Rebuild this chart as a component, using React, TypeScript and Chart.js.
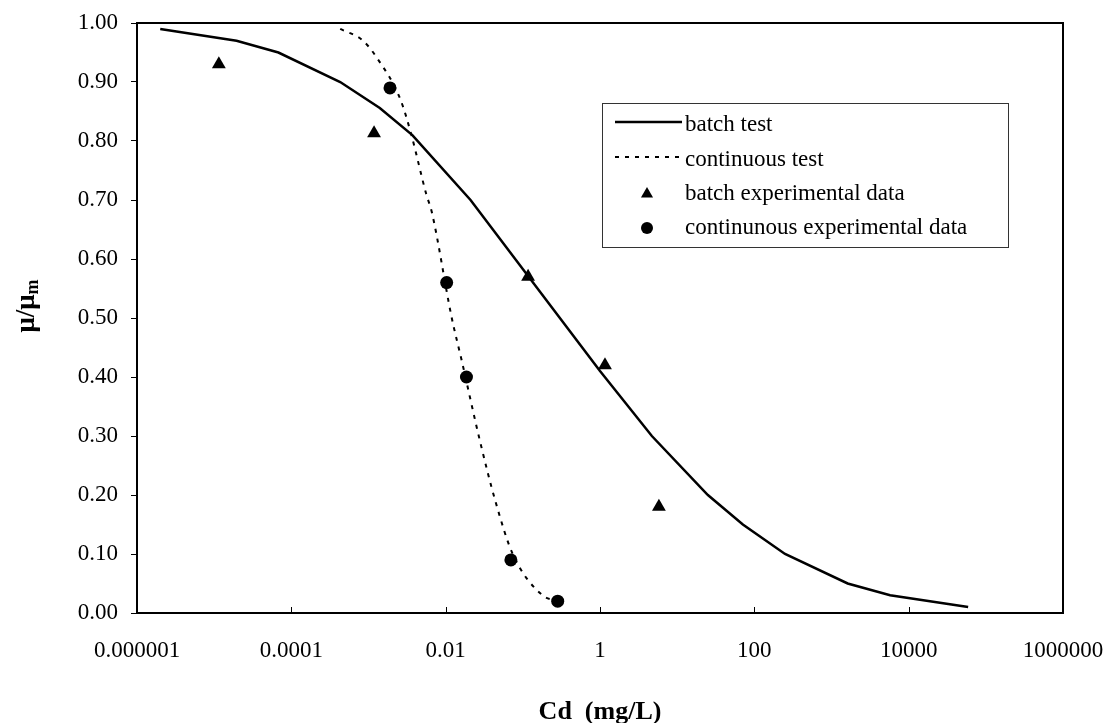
import React, { useEffect, useRef } from 'react';
import { Chart, registerables } from 'chart.js';

Chart.register(...registerables);

// ---- data ----
const BATCH_CURVE_X = [2e-6, 1.95e-5, 6.8e-5, 4.3e-4, 1.4e-3, 3.7e-3, 0.021, 1.0, 4.7, 25, 71, 250, 1620, 5750, 59000];
const BATCH_CURVE_Y = [0.99, 0.97, 0.95, 0.90, 0.856, 0.81, 0.70, 0.41, 0.30, 0.20, 0.15, 0.10, 0.05, 0.03, 0.01];

const CONT_CURVE_X = [4.3e-4, 8.5e-4, 1.3e-3, 2.6e-3, 3.6e-3, 5.6e-3, 6.6e-3, 0.012, 0.016, 0.028, 0.044, 0.074, 0.18, 0.30];
const CONT_CURVE_Y = [0.99, 0.97, 0.94, 0.87, 0.81, 0.71, 0.68, 0.50, 0.43, 0.29, 0.19, 0.10, 0.03, 0.02];

const BATCH_EXP_X = [1.15e-5, 1.18e-3, 0.117, 1.16, 5.8];
const BATCH_EXP_Y = [0.93, 0.813, 0.57, 0.42, 0.18];

const CONT_EXP_X = [1.9e-3, 0.0103, 0.0186, 0.070, 0.283];
const CONT_EXP_Y = [0.89, 0.56, 0.40, 0.09, 0.02];

const X_TICKS = [1e-6, 1e-4, 1e-2, 1, 100, 1e4, 1e6];
const X_TICK_LABELS = ['0.000001', '0.0001', '0.01', '1', '100', '10000', '1000000'];

const SERIES_LABELS = ['batch test', 'continuous test', 'batch experimental data', 'continunous experimental data'];

const X_TITLE = 'Cd  (mg/L)';
const Y_TITLE_MAIN = 'μ/μ';
const Y_TITLE_SUB = 'm';

const FONT = '"Liberation Serif", "Times New Roman", serif';

const pts = (xs: number[], ys: number[]) => xs.map((x, i) => ({ x, y: ys[i] }));

const decorPlugin = {
  id: 'decor',
  afterDraw(chart: any) {
    const { ctx, chartArea: a, scales } = chart;
    ctx.save();
    // frame
    ctx.strokeStyle = '#000';
    ctx.lineWidth = 2;
    ctx.strokeRect(a.left, a.top, a.right - a.left, a.bottom - a.top);
    // x tick marks (inward)
    ctx.lineWidth = 1;
    for (const t of scales.x.ticks) {
      const px = Math.round(scales.x.getPixelForValue(t.value)) + 0.5;
      ctx.beginPath();
      ctx.moveTo(px, a.bottom);
      ctx.lineTo(px, a.bottom - 6);
      ctx.stroke();
    }
    // y axis title with subscript
    ctx.save();
    ctx.translate(27, (a.top + a.bottom) / 2 - 12);
    ctx.rotate(-Math.PI / 2);
    ctx.fillStyle = '#000';
    ctx.textBaseline = 'middle';
    ctx.textAlign = 'left';
    const mainFont = `bold 27px ${FONT}`;
    const subFont = `bold 18px ${FONT}`;
    ctx.font = mainFont;
    const w1 = ctx.measureText(Y_TITLE_MAIN).width;
    ctx.font = subFont;
    const w2 = ctx.measureText(Y_TITLE_SUB).width;
    const start = -(w1 + w2) / 2;
    ctx.font = mainFont;
    ctx.fillText(Y_TITLE_MAIN, start, 0);
    ctx.font = subFont;
    ctx.fillText(Y_TITLE_SUB, start + w1, 6);
    ctx.restore();

    // legend
    const bx = a.left + 465;
    const by = a.top + 80;
    const bw = 406;
    const bh = 144;
    ctx.fillStyle = '#fff';
    ctx.fillRect(bx, by, bw, bh);
    ctx.strokeStyle = '#333';
    ctx.lineWidth = 1;
    ctx.strokeRect(bx + 0.5, by + 0.5, bw, bh);
    const rows = [22, 57, 91, 125];
    const dsets = chart.data.datasets;
    ctx.font = `23px ${FONT}`;
    ctx.textBaseline = 'middle';
    ctx.textAlign = 'left';
    dsets.forEach((ds: any, i: number) => {
      const y = by + rows[i];
      if (ds.showLine) {
        ctx.save();
        ctx.strokeStyle = ds.borderColor;
        ctx.lineWidth = ds.borderWidth;
        ctx.setLineDash(ds.borderDash || []);
        ctx.beginPath();
        ctx.moveTo(bx + 13, y - 3);
        ctx.lineTo(bx + 80, y - 3);
        ctx.stroke();
        ctx.restore();
      } else {
        ctx.save();
        ctx.fillStyle = '#000';
        ctx.beginPath();
        const cx = bx + 45;
        if (ds.pointStyle === 'triangle') {
          const r = 7;
          ctx.moveTo(cx, y - r);
          ctx.lineTo(cx + r * 0.866, y + r / 2);
          ctx.lineTo(cx - r * 0.866, y + r / 2);
          ctx.closePath();
        } else {
          ctx.arc(cx, y, 6, 0, Math.PI * 2);
        }
        ctx.fill();
        ctx.restore();
      }
      ctx.fillStyle = '#000';
      ctx.fillText(ds.label, bx + 83, y);
    });
    ctx.restore();
  },
};

export default function App() {
  const ref = useRef<HTMLCanvasElement | null>(null);
  useEffect(() => {
    if (!ref.current) return;
    const chart = new Chart(ref.current, {
      type: 'scatter',
      data: {
        datasets: [
          {
            label: SERIES_LABELS[0],
            data: pts(BATCH_CURVE_X, BATCH_CURVE_Y),
            showLine: true,
            borderColor: '#000',
            backgroundColor: '#000',
            borderWidth: 2.5,
            pointRadius: 0,
            tension: 0,
          },
          {
            label: SERIES_LABELS[1],
            data: pts(CONT_CURVE_X, CONT_CURVE_Y),
            showLine: true,
            borderColor: '#000',
            backgroundColor: '#000',
            borderWidth: 2,
            borderDash: [4, 6],
            pointRadius: 0,
            cubicInterpolationMode: 'monotone',
          },
          {
            label: SERIES_LABELS[2],
            data: pts(BATCH_EXP_X, BATCH_EXP_Y),
            showLine: false,
            pointStyle: 'triangle',
            pointRadius: 8,
            borderWidth: 0,
            backgroundColor: '#000',
            borderColor: '#000',
          },
          {
            label: SERIES_LABELS[3],
            data: pts(CONT_EXP_X, CONT_EXP_Y),
            showLine: false,
            pointStyle: 'circle',
            pointRadius: 6.5,
            borderWidth: 0,
            backgroundColor: '#000',
            borderColor: '#000',
          },
        ] as any,
      },
      options: {
        animation: false,
        responsive: false,
        layout: { padding: { top: 23, right: 47, left: 0, bottom: 0 } },
        plugins: {
          legend: { display: false },
          tooltip: { enabled: false },
        },
        scales: {
          x: {
            type: 'logarithmic',
            min: 1e-6,
            max: 1e6,
            afterFit: (s: any) => {
              s.height = 110;
              s.paddingLeft = 0;
              s.paddingRight = 0;
            },
            afterBuildTicks: (s: any) => {
              s.ticks = X_TICKS.map((v) => ({ value: v }));
            },
            grid: { display: false, drawTicks: false },
            border: { display: true, color: '#000', width: 2 },
            ticks: {
              autoSkip: false,
              maxRotation: 0,
              padding: 24,
              color: '#000',
              font: { family: FONT, size: 23 },
              callback: (_v: any, i: number) => X_TICK_LABELS[i],
            },
            title: {
              display: true,
              text: X_TITLE,
              color: '#000',
              font: { family: FONT, size: 26, weight: 'bold', lineHeight: 0.8 },
              padding: { top: 0, bottom: 0 },
            },
          },
          y: {
            type: 'linear',
            min: 0,
            max: 1,
            afterFit: (s: any) => {
              s.width = 137;
              s.paddingTop = 0;
              s.paddingBottom = 0;
            },
            grid: {
              display: true,
              drawOnChartArea: false,
              drawTicks: true,
              tickLength: 6,
              color: '#000',
              lineWidth: 1,
            },
            border: { display: true, color: '#000', width: 2 },
            ticks: {
              stepSize: 0.1,
              padding: 13,
              color: '#000',
              font: { family: FONT, size: 23 },
              callback: (v: any) => Number(v).toFixed(2),
            },
          },
        },
      } as any,
      plugins: [decorPlugin],
    });
    return () => chart.destroy();
  }, []);
  return (
    <div style={{ position: 'absolute', left: 0, top: 0, width: 1110, height: 723, background: '#fff' }}>
      <canvas ref={ref} width={1110} height={723} style={{ display: 'block' }} />
    </div>
  );
}
